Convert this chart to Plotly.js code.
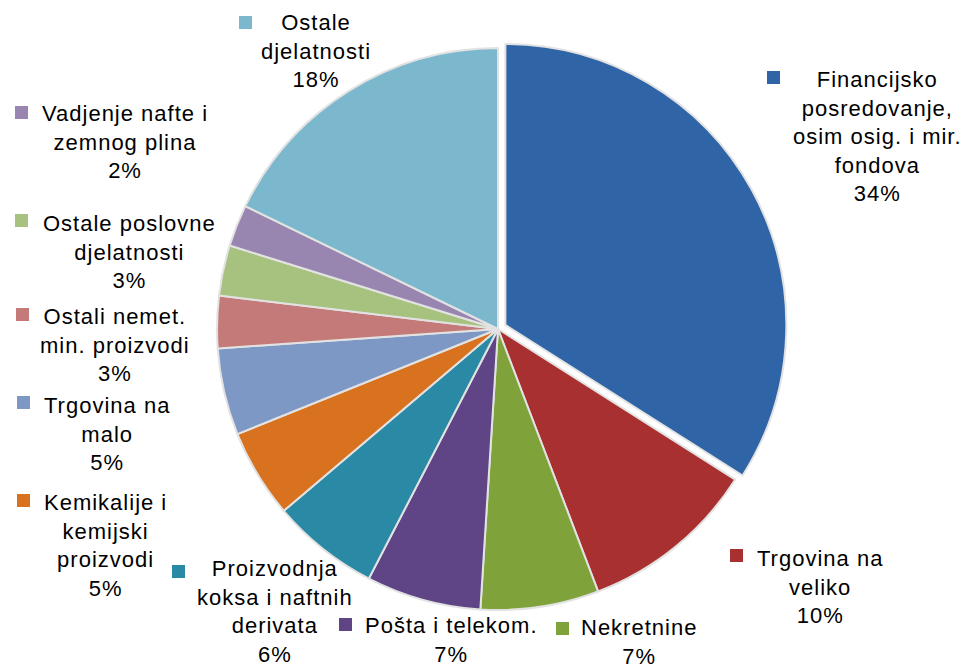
<!DOCTYPE html>
<html>
<head>
<meta charset="utf-8">
<script src="https://cdn.plot.ly/plotly-3.0.1.min.js"></script>
<style>
  html, body { margin: 0; padding: 0; background: #ffffff; }
  #chart { width: 963px; height: 668px; }
  .annotation-text { letter-spacing: 1px; }
</style>
</head>
<body>
<div id="chart"></div>
<script>
// ---- Data ----
const categories = [
  "Financijsko<br>posredovanje,<br>osim osig. i mir.<br>fondova",
  "Trgovina na<br>veliko",
  "Nekretnine",
  "Pošta i telekom.",
  "Proizvodnja<br>koksa i naftnih<br>derivata",
  "Kemikalije i<br>kemijski<br>proizvodi",
  "Trgovina na<br>malo",
  "Ostali nemet.<br>min. proizvodi",
  "Ostale poslovne<br>djelatnosti",
  "Vadjenje nafte i<br>zemnog plina",
  "Ostale<br>djelatnosti"
];
const shares = [34.0, 10.2, 6.8, 6.6, 6.2, 5.1, 5.0, 3.0, 2.9, 2.4, 17.8];
const colors = ["#2F64A6", "#A93030", "#7FA23A", "#5F4585", "#2A8AA6", "#D9721F",
                "#7E98C6", "#C47A78", "#A7C17F", "#9886B0", "#7CB8CD"];
const pulls = [0.03, 0, 0, 0, 0, 0, 0, 0, 0, 0, 0];

// ---- Layout helpers (label placement, pixels) ----
const W = 963, H = 668;
const labelPos = [
  [877, 136.5], [820, 586.5], [639, 642], [451, 640], [275, 611.5], [105, 545],
  [107, 433.5], [115, 344.5], [129, 252.5], [125, 142.5], [316, 51.5]
];
const keyPos = [
  [767, 71], [730, 549], [556, 622], [339, 618], [172, 565], [17, 494],
  [17, 396], [16, 308], [15, 214], [15, 106], [239, 16]
];
const KEY = 13;
const px = x => x / W;
const py = y => 1 - y / H;

const total = shares.reduce((a, b) => a + b, 0);

const annotations = categories.map((c, i) => ({
  xref: 'paper', yref: 'paper',
  x: px(labelPos[i][0]), y: py(labelPos[i][1]),
  xanchor: 'center', yanchor: 'middle',
  text: c + '<br>' + Math.round(shares[i] / total * 100) + '%',
  showarrow: false, align: 'center', borderpad: 0,
  font: { family: 'Liberation Sans, Arial, sans-serif', size: 22, color: '#000000' }
}));

const shapes = keyPos.map((k, i) => ({
  type: 'rect', xref: 'paper', yref: 'paper',
  x0: px(k[0]), x1: px(k[0] + KEY), y0: py(k[1] + KEY), y1: py(k[1]),
  fillcolor: colors[i], line: { width: 0 }
}));

const trace = {
  type: 'pie',
  labels: categories,
  values: shares,
  sort: false,
  direction: 'clockwise',
  rotation: 0,
  pull: pulls,
  textinfo: 'none',
  hoverinfo: 'skip',
  marker: { colors: colors, line: { color: '#E2E2E2', width: 2 } },
  domain: { x: [208.6 / W, 787.4 / W], y: [1 - 618.4 / H, 1 - 39.6 / H] }
};

const layout = {
  width: W, height: H,
  margin: { l: 0, r: 0, t: 0, b: 0 },
  paper_bgcolor: '#ffffff',
  showlegend: false,
  annotations: annotations,
  shapes: shapes
};

Plotly.newPlot('chart', [trace], layout, { displayModeBar: false, staticPlot: true });
</script>
</body>
</html>
